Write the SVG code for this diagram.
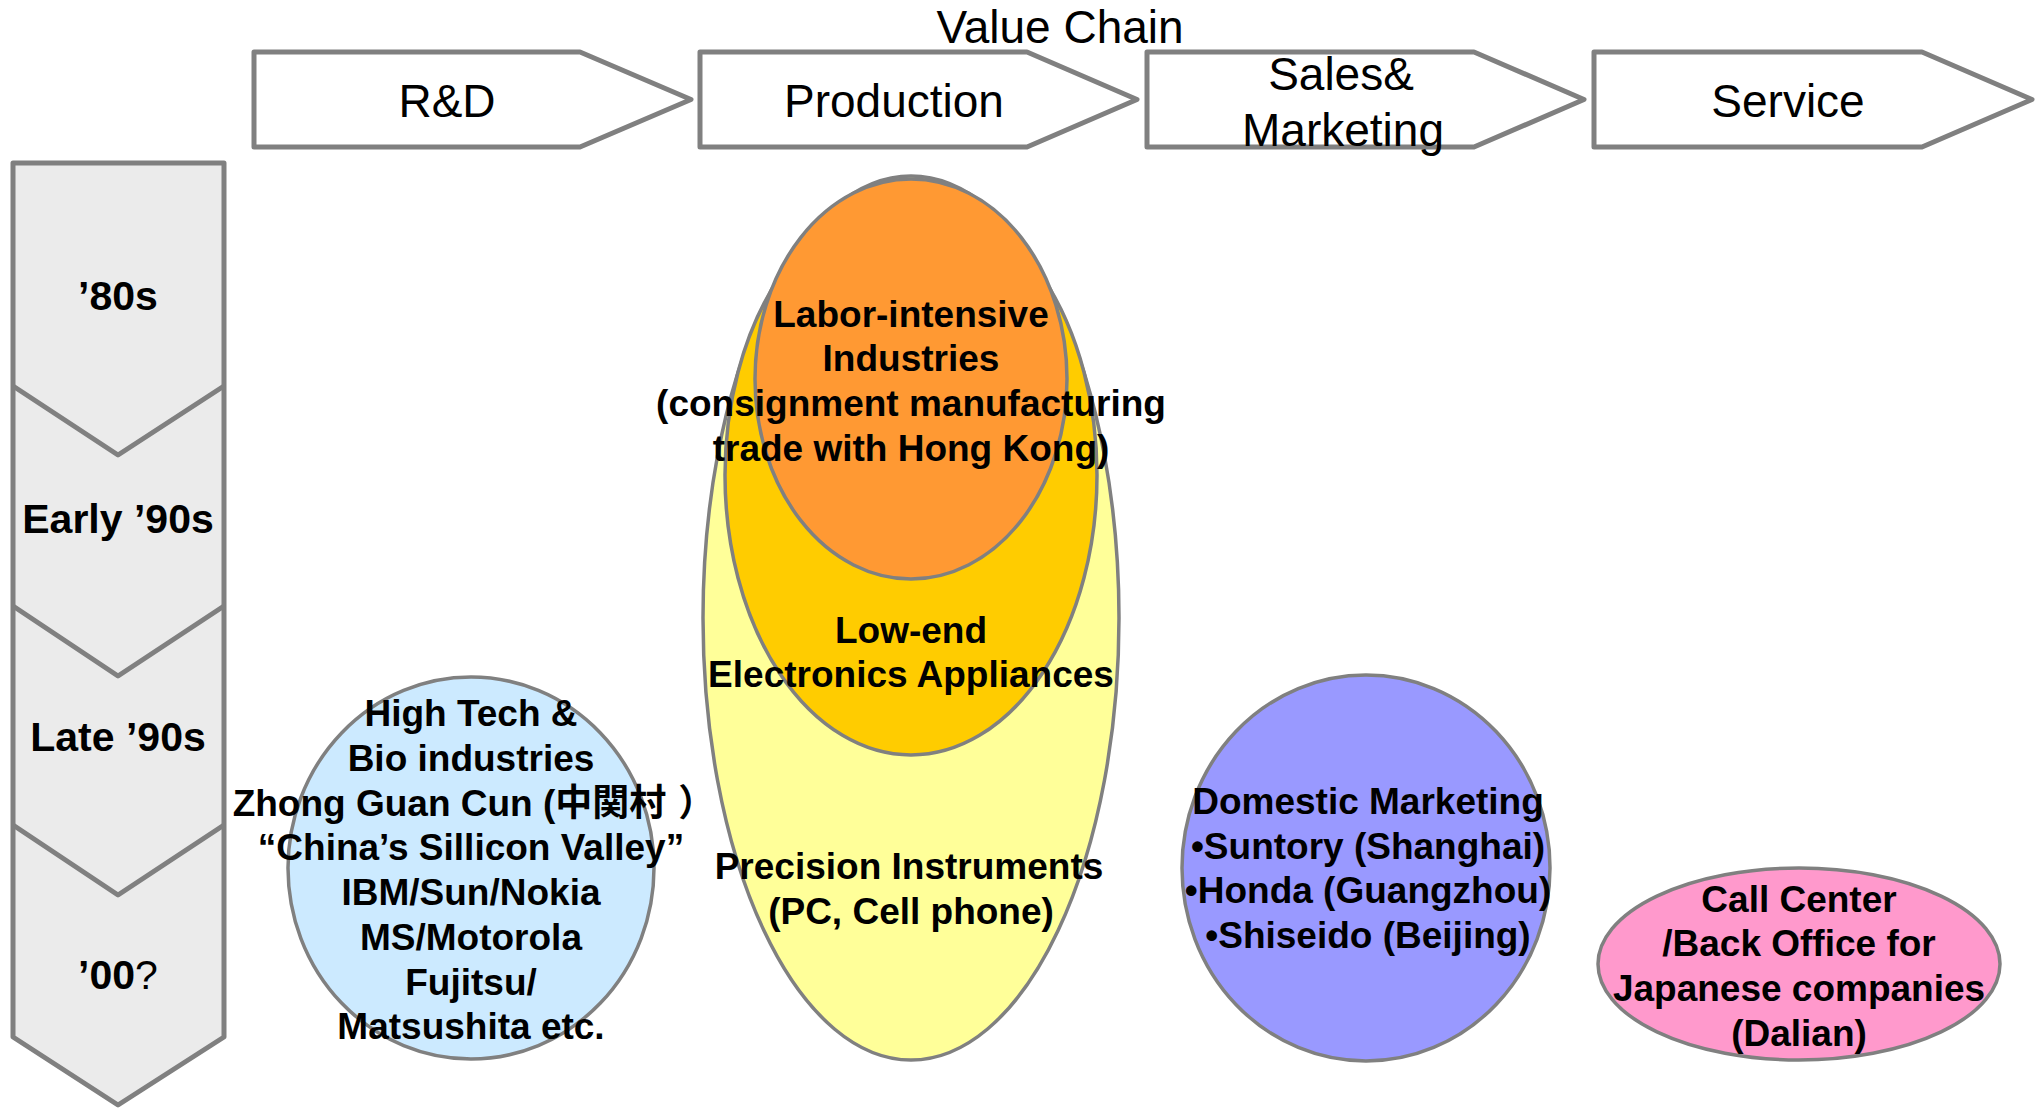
<svg xmlns="http://www.w3.org/2000/svg" width="2040" height="1108" viewBox="0 0 2040 1108">
<style>
.stage{fill:#ffffff;stroke:#808080;stroke-width:5;stroke-linejoin:round}
.hd{font-family:"Liberation Sans",Arial,sans-serif;font-size:46px;fill:#000;text-anchor:middle}
.yr{font-family:"Liberation Sans",Arial,sans-serif;font-size:41px;font-weight:bold;fill:#000;text-anchor:middle}
.b{font-family:"Liberation Sans",Arial,"Noto Sans CJK JP",sans-serif;font-size:37px;font-weight:bold;fill:#000;text-anchor:middle}
.ell{stroke:#808080;stroke-width:3.5}
.col{fill:#ebebeb;stroke:#808080;stroke-width:5;stroke-linejoin:round}
.div{fill:none;stroke:#808080;stroke-width:5;stroke-linejoin:round}
</style>
<text id="title" class="hd" x="1060" y="43">Value Chain</text>
<g id="stage-rd">
<polygon class="stage" points="254,52 580,52 691,99.5 580,147 254,147"/>
<text class="hd" x="447" y="117">R&amp;D</text>
</g>
<g id="stage-production">
<polygon class="stage" points="700,52 1027,52 1137,99.5 1027,147 700,147"/>
<text class="hd" x="894" y="117">Production</text>
</g>
<g id="stage-sales">
<polygon class="stage" points="1147,52 1474,52 1584,99.5 1474,147 1147,147"/>
<text class="hd" x="1341" y="90">Sales&amp;</text>
<text class="hd" x="1343" y="146">Marketing</text>
</g>
<g id="stage-service">
<polygon class="stage" points="1594,52 1922,52 2032,99.5 1922,147 1594,147"/>
<text class="hd" x="1788" y="117">Service</text>
</g>
<g id="timeline">
<path class="col" d="M13,163 H224 V1037 L118,1105 L13,1037 Z"/>
<polyline class="div" points="13,386 118,455 224,386"/>
<polyline class="div" points="13,606 118,676 224,606"/>
<polyline class="div" points="13,825 118,895 224,825"/>
<text class="yr" x="118" y="310">’80s</text>
<text class="yr" x="118" y="533">Early ’90s</text>
<text class="yr" x="118" y="751">Late ’90s</text>
<text class="yr" x="118" y="989">’00<tspan font-weight="normal">?</tspan></text>
</g>
<g id="node-hightech">
<ellipse class="ell" cx="471" cy="868" rx="183" ry="191" fill="#cceaff"/>
<text class="b" x="471" y="726">High Tech &amp;</text>
<text class="b" x="471" y="771">Bio industries</text>
<text class="b" x="474" y="816">Zhong Guan Cun (中関村<tspan dx="12">）</tspan></text>
<text class="b" x="471" y="860">“China’s Sillicon Valley”</text>
<text class="b" x="471" y="905">IBM/Sun/Nokia</text>
<text class="b" x="471" y="950">MS/Motorola</text>
<text class="b" x="471" y="995">Fujitsu/</text>
<text class="b" x="471" y="1039">Matsushita etc.</text>
</g>
<g id="node-precision">
<ellipse class="ell" cx="911" cy="618" rx="208" ry="442" fill="#ffff99"/>
</g>
<g id="node-lowend">
<ellipse class="ell" cx="911" cy="475" rx="186" ry="280" fill="#ffcc00"/>
</g>
<g id="node-labor">
<ellipse class="ell" cx="911" cy="379" rx="156" ry="200" fill="#ff9933"/>
<text class="b" x="911" y="327">Labor-intensive</text>
<text class="b" x="911" y="371">Industries</text>
<text class="b" x="911" y="416">(consignment manufacturing</text>
<text class="b" x="911" y="461">trade with Hong Kong)</text>
</g>
<g id="labels-production">
<text class="b" x="911" y="643">Low-end</text>
<text class="b" x="911" y="687">Electronics Appliances</text>
<text class="b" x="909" y="879">Precision Instruments</text>
<text class="b" x="911" y="924">(PC, Cell phone)</text>
</g>
<g id="node-domestic">
<ellipse class="ell" cx="1366" cy="868" rx="184" ry="193" fill="#9999ff"/>
<text class="b" x="1368" y="814">Domestic Marketing</text>
<text class="b" x="1368" y="859">•Suntory (Shanghai)</text>
<text class="b" x="1368" y="903">•Honda (Guangzhou)</text>
<text class="b" x="1368" y="948">•Shiseido (Beijing)</text>
</g>
<g id="node-callcenter">
<ellipse class="ell" cx="1799" cy="964" rx="201" ry="96" fill="#ff99cc"/>
<text class="b" x="1799" y="912">Call Center</text>
<text class="b" x="1799" y="956">/Back Office for</text>
<text class="b" x="1799" y="1001">Japanese companies</text>
<text class="b" x="1799" y="1046">(Dalian)</text>
</g>
<g id="connectors"/>
</svg>
